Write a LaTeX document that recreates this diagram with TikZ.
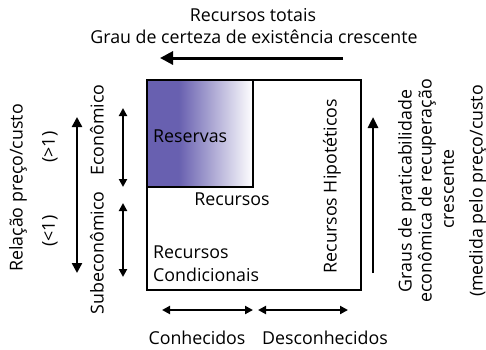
\documentclass[tikz,border=0pt]{standalone}
\usepackage{fontspec}
\setmainfont{Open Sans}
\usetikzlibrary{arrows.meta}
\definecolor{resblue}{RGB}{104,96,176}
\pgfdeclarehorizontalshading{resgrad}{100bp}{color(0bp)=(resblue); color(25bp)=(resblue); color(40bp)=(resblue); color(75bp)=(white); color(100bp)=(white)}
\begin{document}
\begin{tikzpicture}[x=1pt,y=-1pt,
  lbl/.style={font=\fontsize{17.8}{23}\selectfont, inner sep=0pt},
  vlbl/.style={lbl, rotate=90},
  frame/.style={line width=2.8pt},
  dbl/.style={{Triangle[length=8pt,width=8pt]}-{Triangle[length=8pt,width=8pt]}, line width=2.4pt},
  sgl/.style={-{Triangle[length=11pt,width=10pt]}, line width=2.6pt},
  topar/.style={-{Triangle[length=13pt,width=13pt]}, line width=3pt}]
\path[use as bounding box] (0,0) rectangle (486,349);
% top labels and arrow
\node[lbl] (t1) at (253,15) {Recursos totais};
\node[lbl] (t2) at (254,37) {Grau de certeza de existência crescente};
\coordinate (ta0) at (343,58);
\coordinate (ta1) at (160,58);
\draw[topar] (ta0) -- (ta1);
% boxes
\coordinate (bnw) at (147,80);
\coordinate (bse) at (361,290);
\coordinate (rse) at (253,187);
\shade[shading=resgrad] (bnw) rectangle (rse);
\draw[frame] (bnw) rectangle (rse);
\draw[frame] (bnw) rectangle (bse);
% inside labels
\node[lbl, anchor=west] (res) at (153,136) {Reservas};
\node[lbl] (rec) at (232,199) {Recursos};
\node[lbl, anchor=west, align=left] (cond) at (153,264) {Recursos\\Condicionais};
\node[vlbl] (hip) at (332,186) {Recursos Hipotéticos};
% left side
\node[vlbl] (rel) at (18,188) {Relação preço/custo};
\node[vlbl] (gt) at (50,147) {(>1)};
\node[vlbl] (lt) at (50,231) {(<1)};
\node[vlbl] (eco) at (97,130) {Econômico};
\node[vlbl] (sub) at (97,253) {Subeconômico};
\coordinate (ba0) at (77,117);
\coordinate (ba1) at (77,273);
\draw[dbl, {Triangle[length=10pt,width=10pt]}-{Triangle[length=10pt,width=10pt]}] (ba0) -- (ba1);
\coordinate (ea0) at (123,108);
\coordinate (ea1) at (123,187);
\coordinate (sa0) at (123,203);
\coordinate (sa1) at (123,277);
\draw[dbl] (ea0) -- (ea1);
\draw[dbl] (sa0) -- (sa1);
% right side
\coordinate (ra0) at (373,273);
\coordinate (ra1) at (373,117);
\draw[sgl] (ra0) -- (ra1);
\node[vlbl] (g1) at (407,191) {Graus de praticabilidade};
\node[vlbl] (g2) at (427,191) {econômica de recuperação};
\node[vlbl] (g3) at (448,189) {crescente};
\node[vlbl] (g4) at (478,191) {(medida pelo preço/custo};
% bottom
\coordinate (ka0) at (162,310);
\coordinate (ka1) at (253,310);
\coordinate (da0) at (258,310);
\coordinate (da1) at (348,310);
\draw[dbl] (ka0) -- (ka1);
\draw[dbl] (da0) -- (da1);
\node[lbl] (con) at (197,338) {Conhecidos};
\node[lbl] (des) at (325,338) {Desconhecidos};
\end{tikzpicture}
\end{document}
